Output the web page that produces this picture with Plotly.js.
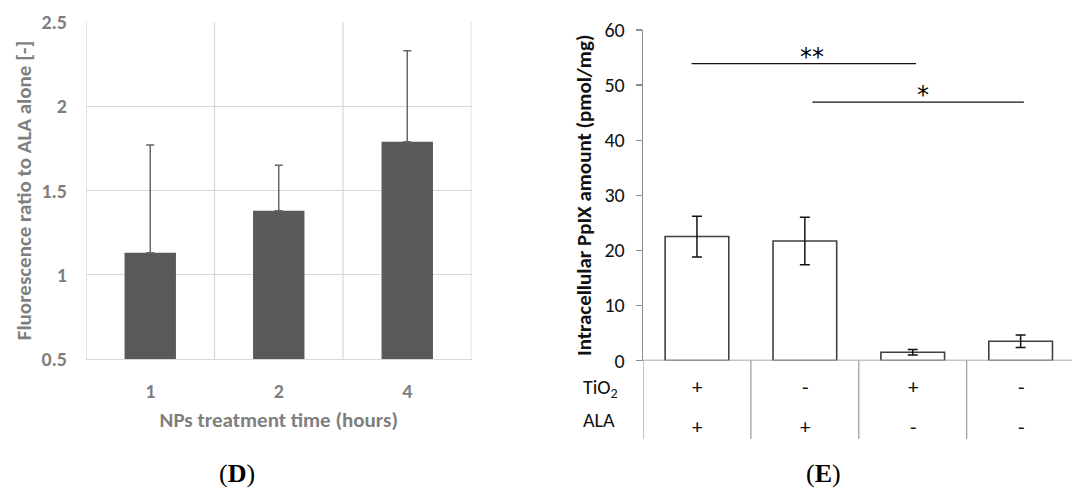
<!DOCTYPE html>
<html>
<head>
<meta charset="utf-8">
<script src="https://cdn.plot.ly/plotly-3.0.1.min.js"></script>
<style>html,body{margin:0;padding:0;background:#fff;}#chart{width:1072px;height:490px;}</style>
</head>
<body>
<div id="chart"></div>
<script>
// ---- Panel D data ----
const hoursLabels = ['1', '2', '4'];
const ratioMean = [1.13, 1.38, 1.79];
const ratioErrUp = [0.64, 0.27, 0.54];

// ---- Panel E data ----
const groupNames = ['TiO2+ALA', 'ALA', 'TiO2', 'none'];
const pplxMean = [22.5, 21.7, 1.5, 3.5];
const pplxErr = [3.7, 4.3, 0.5, 1.15];
const tio2Row = ['+', '-', '+', '-'];
const alaRow = ['+', '+', '-', '-'];

const W = 1072, H = 490;
const px = v => v / W;
const py = v => (H - v) / H;

const FONT = 'Carlito, Lato, "Open Sans", sans-serif';
const GRAY = '#7f7f7f';

const traces = [
  {
    type: 'bar', x: hoursLabels, y: ratioMean, xaxis: 'x', yaxis: 'y',
    marker: {color: '#595959', line: {width: 0}},
    width: 0.4,
    error_y: {type: 'data', symmetric: false, array: ratioErrUp, arrayminus: ratioErrUp.map(() => 0),
              color: '#666666', thickness: 1.5, width: 4},
    hoverinfo: 'skip'
  },
  {
    type: 'bar', x: groupNames, y: pplxMean, xaxis: 'x2', yaxis: 'y2',
    marker: {color: '#ffffff', line: {color: '#404040', width: 1.6}},
    width: 0.59,
    error_y: {type: 'data', array: pplxErr, color: '#111111', thickness: 1.5, width: 5},
    hoverinfo: 'skip'
  }
];

const shapes = [];
[-0.5, 0.5, 1.5, 2.5].forEach(v => shapes.push({
  type: 'line', xref: 'x', yref: 'y', x0: v, x1: v, y0: 0.5, y1: 2.5,
  line: {color: '#d9d9d9', width: 1.3}, layer: 'below'
}));
shapes.push({type: 'line', xref: 'x2', yref: 'y2', x0: -0.5, x1: 3.6, y0: 0, y1: 0,
  line: {color: '#8c8c8c', width: 1.3}});
[-0.5, 0.5, 1.5, 2.5].forEach(v => shapes.push({
  type: 'line', xref: 'x2', yref: 'paper', x0: v, x1: v, y0: py(439), y1: py(360.5),
  line: {color: '#9a9a9a', width: 1.2}
}));
shapes.push({type: 'line', xref: 'x2', yref: 'y2', x0: -0.05, x1: 2.03, y0: 53.9, y1: 53.9,
  line: {color: '#111', width: 1.3}});
shapes.push({type: 'line', xref: 'x2', yref: 'y2', x0: 1.07, x1: 3.03, y0: 46.9, y1: 46.9,
  line: {color: '#111', width: 1.3}});

const annotations = [];
annotations.push({xref: 'paper', yref: 'paper', x: px(812), y: py(73), text: '**', showarrow: false,
  xanchor: 'center', yanchor: 'bottom', font: {family: '"DejaVu Sans", sans-serif', size: 24, color: '#000'}});
annotations.push({xref: 'paper', yref: 'paper', x: px(923), y: py(111), text: '*', showarrow: false,
  xanchor: 'center', yanchor: 'bottom', font: {family: '"DejaVu Sans", sans-serif', size: 24, color: '#000'}});
annotations.push({xref: 'paper', yref: 'paper', x: px(581), y: py(388), text: 'TiO<sub>2</sub>',
  xanchor: 'left', yanchor: 'middle', showarrow: false, font: {family: FONT, size: 20, color: '#111'}});
annotations.push({xref: 'paper', yref: 'paper', x: px(581), y: py(420), text: 'ALA',
  xanchor: 'left', yanchor: 'middle', showarrow: false, font: {family: FONT, size: 20, color: '#111'}});
groupNames.forEach((g, i) => {
  annotations.push({xref: 'x2', yref: 'paper', x: g, y: py(387), text: tio2Row[i], showarrow: false,
    xanchor: 'center', yanchor: 'middle', font: {family: FONT, size: 21, color: '#111'}});
  annotations.push({xref: 'x2', yref: 'paper', x: g, y: py(427), text: alaRow[i], showarrow: false,
    xanchor: 'center', yanchor: 'middle', font: {family: FONT, size: 21, color: '#111'}});
});
annotations.push({xref: 'paper', yref: 'paper', x: px(237), y: py(473), text: '(<b>D</b>)', showarrow: false,
  xanchor: 'center', yanchor: 'middle', font: {family: '"Liberation Serif", serif', size: 26, color: '#000'}});
annotations.push({xref: 'paper', yref: 'paper', x: px(823), y: py(473), text: '(<b>E</b>)', showarrow: false,
  xanchor: 'center', yanchor: 'middle', font: {family: '"Liberation Serif", serif', size: 26, color: '#000'}});

const layout = {
  width: W, height: H,
  margin: {l: 0, r: 0, t: 0, b: 0},
  paper_bgcolor: '#fff', plot_bgcolor: 'rgba(0,0,0,0)',
  showlegend: false,
  xaxis: {
    domain: [px(86), px(471.5)], anchor: 'y', type: 'category', range: [-0.5, 2.5],
    showgrid: false, zeroline: false, showline: true, linecolor: '#d9d9d9', linewidth: 1.3,
    ticks: '', ticklabelstandoff: 14,
    tickfont: {family: FONT, size: 20, color: GRAY, weight: 'bold'},
    title: {text: '<b>NPs treatment time (hours)</b>', standoff: 10,
            font: {family: FONT, size: 21, color: GRAY}},
    fixedrange: true
  },
  yaxis: {
    domain: [py(359), py(22)], anchor: 'x', range: [0.5, 2.5], dtick: 0.5, tick0: 0.5,
    showgrid: true, gridcolor: '#d9d9d9', gridwidth: 1.3, zeroline: false, showline: false,
    ticks: '', ticklabelstandoff: 18,
    tickfont: {family: FONT, size: 20, color: GRAY, weight: 'bold'},
    title: {text: '<b>Fluorescence ratio to ALA alone [-]</b>', standoff: 4,
            font: {family: FONT, size: 21, color: GRAY}},
    fixedrange: true
  },
  xaxis2: {
    domain: [px(643), 1], anchor: 'y2', type: 'category', range: [-0.5, 3.476],
    showgrid: false, zeroline: false, showline: false, showticklabels: false, ticks: '',
    fixedrange: true
  },
  yaxis2: {
    domain: [py(360.5), py(30)], anchor: 'x2', range: [0, 60], dtick: 10,
    showgrid: false, zeroline: false, showline: true, linecolor: '#8c8c8c', linewidth: 1.3,
    ticks: 'outside', ticklen: 6, tickcolor: '#8c8c8c', tickwidth: 1.3, ticklabelstandoff: 7,
    tickfont: {family: FONT, size: 20, color: '#111'},
    title: {text: '<b>Intracellular PpIX amount (pmol/mg)</b>', standoff: 7,
            font: {family: FONT, size: 21, color: '#111'}},
    fixedrange: true
  },
  shapes: shapes,
  annotations: annotations
};

Plotly.newPlot('chart', traces, layout, {displayModeBar: false, staticPlot: true});
</script>
</body>
</html>
